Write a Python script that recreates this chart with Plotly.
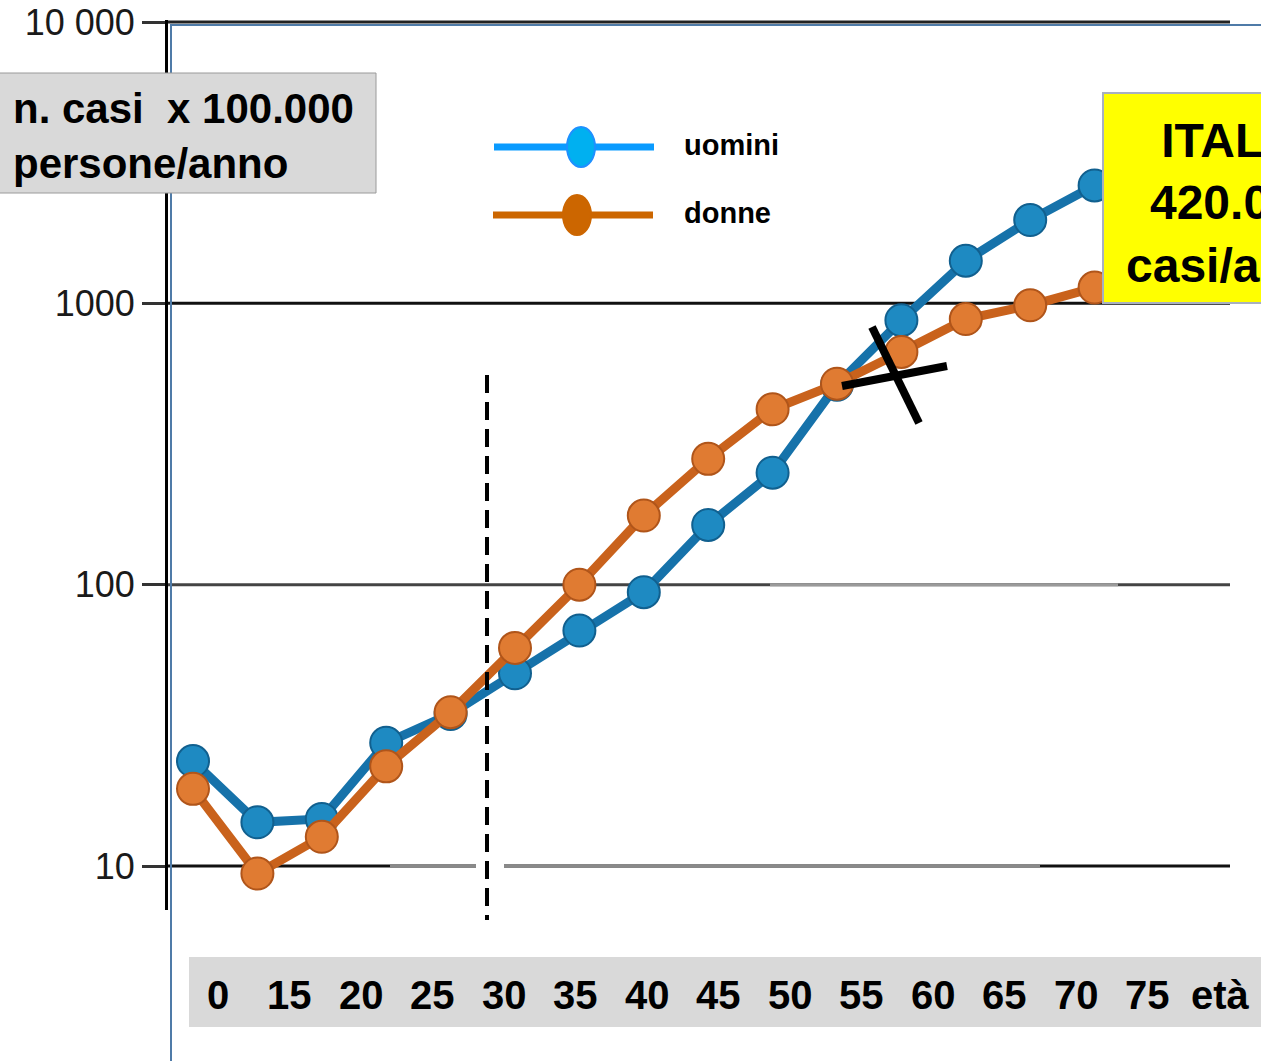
import plotly.graph_objects as go

# ---------------- data ----------------
ages = [0, 5, 10, 15, 20, 25, 30, 35, 40, 45, 50, 55, 60, 65, 70]
uomini = [23.6, 14.3, 14.7, 27.4, 34.7, 48.4, 68.7, 94, 163, 250, 514, 871, 1417, 1977, 2624]
donne = [18.8, 9.4, 12.7, 22.6, 35.2, 59.6, 100, 176, 280, 420, 518, 672, 879, 984, 1138]
age_labels = ["0", "15", "20", "25", "30", "35", "40", "45", "50", "55", "60", "65", "70", "75", "età"]
y_tickvals = [10, 100, 1000, 10000]
y_ticktext = ["10", "100", "1000", "10 000"]
series_names = ["uomini", "donne"]
box_title = "n. casi  x 100.000<br>persone/anno"
box_italia = "ITALIA<br>420.000<br>casi/anno"

# ---------------- layout geometry (pixels) ----------------
W, H = 1261, 1061
L, R, T, B = 168, 1230, 20, 910


def px(x):
    return (x - L) / (R - L)


def py(y):
    return (B - y) / (B - T)


FONT = "Liberation Sans, Arial, sans-serif"

fig = go.Figure()

fig.add_trace(go.Scatter(
    x=ages, y=uomini, name=series_names[0], mode="lines+markers",
    line=dict(color="#1672AA", width=9),
    marker=dict(size=32, color="#1E8AC2", line=dict(color="#11608F", width=2)),
    showlegend=False,
))
fig.add_trace(go.Scatter(
    x=ages, y=donne, name=series_names[1], mode="lines+markers",
    line=dict(color="#C9621C", width=9),
    marker=dict(size=32, color="#E07B32", line=dict(color="#B0551A", width=2)),
    showlegend=False,
))

# x scale: age 0 at pixel 193, 12.88 px per year
x0_px, per_year = 193, 64.4 / 5
x_range = [(L - x0_px) / per_year, (R - x0_px) / per_year]
ppd = 281.3
y_range = [1 - (B - 866) / ppd, 4 + (22 - T) / ppd]

shapes = []
annotations = []

# horizontal reference lines (drawn below traces)
hline_styles = {10: "#111111", 100: "#444444", 1000: "#111111", 10000: "#222222"}
for v in y_tickvals:
    shapes.append(dict(type="line", xref="paper", yref="y", x0=0, x1=1, y0=v, y1=v,
                       line=dict(color=hline_styles[v], width=3), layer="below"))
shapes.append(dict(type="line", xref="paper", yref="y", x0=px(390), x1=px(1040), y0=10, y1=10,
                   line=dict(color="#8a8a8a", width=3), layer="below"))
shapes.append(dict(type="line", xref="paper", yref="y", x0=px(770), x1=px(1118), y0=100, y1=100,
                   line=dict(color="#9a9a9a", width=3), layer="below"))
# white gap where dashed line crosses the 10 line
shapes.append(dict(type="line", xref="paper", yref="y", x0=px(476), x1=px(504), y0=10, y1=10,
                   line=dict(color="white", width=5), layer="below"))

# slide border lines (steel blue)
shapes.append(dict(type="line", xref="paper", yref="paper", x0=px(171), x1=px(171), y0=py(24), y1=py(1061),
                   line=dict(color="#4F7BA8", width=2), layer="above"))
shapes.append(dict(type="line", xref="paper", yref="paper", x0=px(170), x1=px(1261), y0=py(25), y1=py(25),
                   line=dict(color="#4F7BA8", width=2), layer="below"))

# dashed vertical line
shapes.append(dict(type="line", xref="paper", yref="paper", x0=px(487), x1=px(487), y0=py(375), y1=py(920),
                   line=dict(color="black", width=4, dash="18px,9px"), layer="above"))

# black X
shapes.append(dict(type="line", xref="paper", yref="paper", x0=px(872), x1=px(919), y0=py(327), y1=py(423),
                   line=dict(color="black", width=8), layer="above"))
shapes.append(dict(type="line", xref="paper", yref="paper", x0=px(842), x1=px(947), y0=py(386), y1=py(366),
                   line=dict(color="black", width=8), layer="above"))

# top-left grey box
shapes.append(dict(type="rect", xref="paper", yref="paper", x0=px(-2), x1=px(376), y0=py(73), y1=py(193),
                   fillcolor="#D9D9D9", line=dict(color="#9A9A9A", width=1), layer="above"))
annotations.append(dict(xref="paper", yref="paper", x=px(11), y=py(136), xanchor="left", yanchor="middle",
                        text="<b>" + box_title.replace("<br>", "</b><br><b>") + "</b>", showarrow=False, align="left",
                        font=dict(family=FONT, size=42, color="black")))

# yellow box
shapes.append(dict(type="rect", xref="paper", yref="paper", x0=px(1103), x1=px(1380), y0=py(93), y1=py(303),
                   fillcolor="#FFFF00", line=dict(color="#A8B0C0", width=2), layer="above"))
annotations.append(dict(xref="paper", yref="paper", x=px(1236), y=py(203), xanchor="center", yanchor="middle",
                        text="<b>" + box_italia.replace("<br>", "</b><br><b>") + "</b>", showarrow=False, align="center",
                        font=dict(family=FONT, size=48, color="black")))

# legend (manual)
leg = [(147, 581, 494, "#0A9BFF", "#00B0F0", "#1E90FF"), (215, 577, 493, "#CC6600", "#CC6600", "#CC6600")]
for (ly, cx, lx0, lc, fc, bc), name in zip(leg, series_names):
    shapes.append(dict(type="line", xref="paper", yref="paper", x0=px(lx0), x1=px(lx0 + 160), y0=py(ly), y1=py(ly),
                       line=dict(color=lc, width=7), layer="above"))
    shapes.append(dict(type="circle", xref="paper", yref="paper", x0=px(cx - 14), x1=px(cx + 14),
                       y0=py(ly - 20), y1=py(ly + 20), fillcolor=fc, line=dict(color=bc, width=2), layer="above"))
    annotations.append(dict(xref="paper", yref="paper", x=px(682), y=py(ly - 2), xanchor="left", yanchor="middle",
                            text="<b>" + name + "</b>", showarrow=False,
                            font=dict(family=FONT, size=29, color="black")))

# bottom age label box
shapes.append(dict(type="rect", xref="paper", yref="paper", x0=px(189), x1=px(1290), y0=py(957), y1=py(1027),
                   fillcolor="#D9D9D9", line=dict(width=0), layer="above"))
for i, lab in enumerate(age_labels):
    cx = 218 + 71.5 * i if lab != "età" else 1220
    annotations.append(dict(xref="paper", yref="paper", x=px(cx), y=py(995), xanchor="center", yanchor="middle",
                            text="<b>" + lab + "</b>", showarrow=False,
                            font=dict(family=FONT, size=40, color="black")))

fig.update_layout(
    width=W, height=H,
    margin=dict(l=L, r=W - R, t=T, b=H - B, pad=0, autoexpand=False),
    paper_bgcolor="white", plot_bgcolor="white",
    shapes=shapes, annotations=annotations,
    showlegend=False,
    xaxis=dict(range=x_range, showgrid=False, zeroline=False, showline=False, showticklabels=False, ticks="",
               automargin=False),
    yaxis=dict(type="log", range=y_range, tickvals=y_tickvals, ticktext=y_ticktext,
               showgrid=False, automargin=False,
               showline=True, linecolor="black", linewidth=3,
               ticks="outside", ticklen=23, tickwidth=3, tickcolor="#333",
               ticklabelstandoff=0,
               tickfont=dict(family=FONT, size=36, color="#1a1a1a"), zeroline=False),
)

fig.write_html("out.html", config={"displayModeBar": False},
               post_script="document.body.style.margin='0';document.body.style.overflow='hidden';")
